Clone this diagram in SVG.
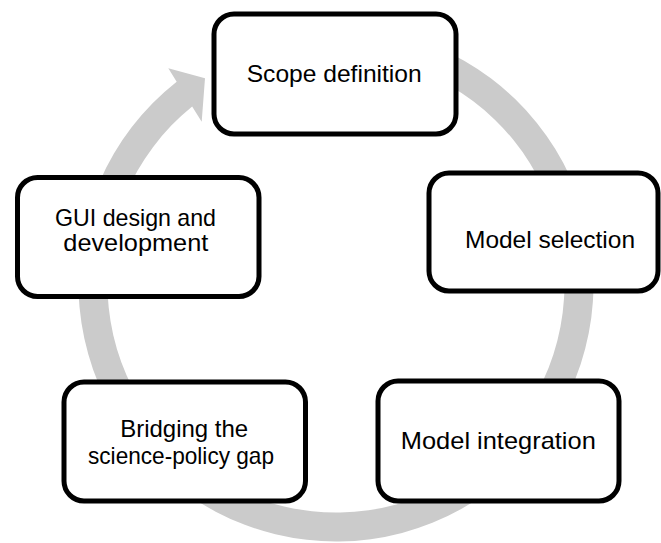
<svg xmlns="http://www.w3.org/2000/svg" width="661" height="543" viewBox="0 0 661 543">
  <style>
    .box { fill: #ffffff; stroke: #000000; stroke-width: 5; }
    .lbl { font-family: "Liberation Sans", Arial, sans-serif; font-size: 24px; fill: #000000; text-anchor: middle; }
    .ring { fill: #cbcbcb; stroke: none; }
  </style>
  <rect width="661" height="543" fill="#ffffff"/>
  <g id="connectors">
    <path class="ring" d="M 247.93 42.03 A 257.5 257.5 0 1 1 176.68 81.70 L 168.3 68.3 L 205 78.3 L 201.7 121.7 L 192.16 106.45 A 228.5 228.5 0 1 0 257.85 69.28 Z"/>
  </g>
  <g id="scope-definition">
    <rect class="box" x="214" y="14" width="242" height="120" rx="20" ry="20"/>
    <text class="lbl" x="334.2" y="81.7" textLength="175" lengthAdjust="spacingAndGlyphs">Scope definition</text>
  </g>
  <g id="model-selection">
    <rect class="box" x="429" y="173" width="229" height="118" rx="20" ry="20"/>
    <text class="lbl" x="550" y="248" textLength="170" lengthAdjust="spacingAndGlyphs">Model selection</text>
  </g>
  <g id="model-integration">
    <rect class="box" x="378" y="381" width="241" height="120" rx="20" ry="20"/>
    <text class="lbl" x="498.3" y="449.3" textLength="195" lengthAdjust="spacingAndGlyphs">Model integration</text>
  </g>
  <g id="bridging-gap">
    <rect class="box" x="64" y="382" width="241.5" height="119" rx="20" ry="20"/>
    <text class="lbl" x="184.2" y="436.7" textLength="128" lengthAdjust="spacingAndGlyphs">Bridging the</text>
    <text class="lbl" x="181" y="463.5" textLength="186" lengthAdjust="spacingAndGlyphs">science-policy gap</text>
  </g>
  <g id="gui-design">
    <rect class="box" x="17.5" y="177.5" width="241.5" height="119" rx="20" ry="20"/>
    <text class="lbl" x="135.5" y="225.7" textLength="161" lengthAdjust="spacingAndGlyphs">GUI design and</text>
    <text class="lbl" x="135.8" y="250.7" textLength="145" lengthAdjust="spacingAndGlyphs">development</text>
  </g>
</svg>
